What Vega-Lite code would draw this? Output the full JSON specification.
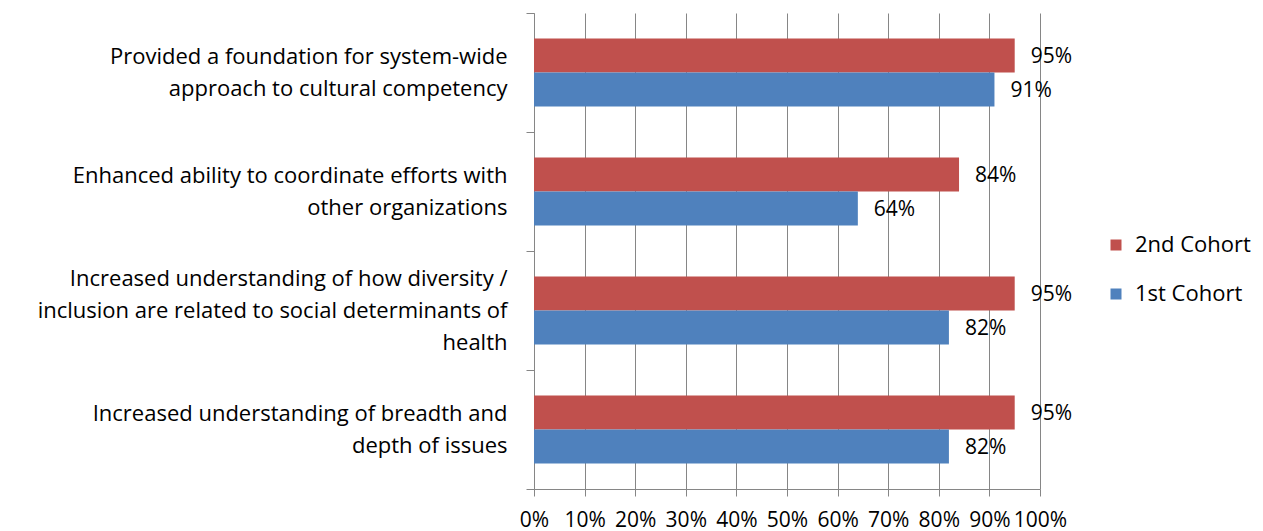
{
  "$schema": "https://vega.github.io/schema/vega-lite/v6.json",
  "width": 506,
  "height": 476,
  "autosize": "none",
  "padding": {"left": 534, "top": 13, "right": 223, "bottom": 42},
  "background": "white",
  "config": {
    "view": {"stroke": null},
    "font": "Open Sans",
    "axis": {"labelFont": "Open Sans", "labelColor": "black", "domainColor": "#868686", "tickColor": "#868686", "gridColor": "#868686", "title": null},
    "legend": {"labelFont": "Open Sans"}
  },
  "data": {
    "values": [
      {"item": "Provided a foundation for system-wide|approach to cultural competency", "cohort": "2nd Cohort", "value": 0.95},
      {"item": "Provided a foundation for system-wide|approach to cultural competency", "cohort": "1st Cohort", "value": 0.91},
      {"item": "Enhanced ability to coordinate efforts with|other organizations", "cohort": "2nd Cohort", "value": 0.84},
      {"item": "Enhanced ability to coordinate efforts with|other organizations", "cohort": "1st Cohort", "value": 0.64},
      {"item": "Increased understanding of how diversity /|inclusion are related to social determinants of|health", "cohort": "2nd Cohort", "value": 0.95},
      {"item": "Increased understanding of how diversity /|inclusion are related to social determinants of|health", "cohort": "1st Cohort", "value": 0.82},
      {"item": "Increased understanding of breadth and|depth of issues", "cohort": "2nd Cohort", "value": 0.95},
      {"item": "Increased understanding of breadth and|depth of issues", "cohort": "1st Cohort", "value": 0.82}
    ]
  },
  "encoding": {
    "y": {
      "field": "item", "type": "nominal", "sort": null,
      "scale": {"paddingInner": 0, "paddingOuter": 0},
      "axis": {
        "labelExpr": "length(split(datum.label,'|')) == 3 ? [split(datum.label,'|')[0], '\u200b', split(datum.label,'|')[1], '\u200b', split(datum.label,'|')[2]] : ['\u200b', split(datum.label,'|')[0], '\u200b', split(datum.label,'|')[1]]",
        "labelFontSize": 22, "labelLineHeight": 16, "labelPadding": 19, "labelOffset": -32,
        "tickSize": 8, "tickBand": "extent", "labelLimit": 600, "grid": false
      }
    },
    "yOffset": {
      "field": "cohort", "type": "nominal",
      "scale": {"domain": ["2nd Cohort", "1st Cohort"], "paddingOuter": 0.75, "paddingInner": 0}
    },
    "x": {
      "field": "value", "type": "quantitative",
      "scale": {"domain": [0, 1], "nice": false},
      "axis": {
        "format": ".0%", "values": [0, 0.1, 0.2, 0.3, 0.4, 0.5, 0.6, 0.7, 0.8, 0.9, 1],
        "grid": true, "gridWidth": 1, "labelFontSize": 21, "tickSize": 7, "labelPadding": 13,
        "labelOverlap": false, "labelFlush": false
      }
    }
  },
  "layer": [
    {
      "mark": {"type": "bar"},
      "encoding": {
        "color": {
          "field": "cohort", "type": "nominal",
          "scale": {"domain": ["2nd Cohort", "1st Cohort"], "range": ["#C0504D", "#4F81BD"]},
          "legend": {
            "title": null, "orient": "none", "legendX": 571, "legendY": 221,
            "symbolType": "square", "symbolSize": 121, "symbolStrokeWidth": 0,
            "labelFontSize": 22, "labelColor": "black", "rowPadding": 27, "labelOffset": 8
          }
        }
      }
    },
    {
      "mark": {"type": "text", "align": "left", "baseline": "middle", "dx": 16, "dy": 1, "fontSize": 21, "color": "black"},
      "encoding": {
        "text": {"field": "value", "type": "quantitative", "format": ".0%"}
      }
    }
  ]
}
